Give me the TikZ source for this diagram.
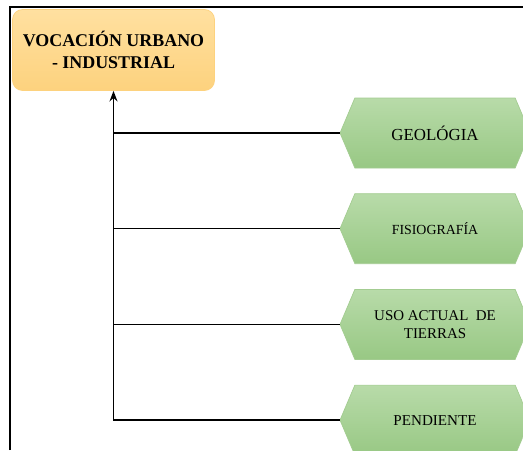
\documentclass[tikz,border=0pt]{standalone}
\usepackage{fontspec}
\setmainfont{Liberation Serif}
\usetikzlibrary{positioning,arrows.meta,shapes.symbols}
\definecolor{naranjaSup}{HTML}{FFE0A0}
\definecolor{naranjaInf}{HTML}{FDD27E}
\definecolor{verdeSup}{HTML}{B8DBA9}
\definecolor{verdeInf}{HTML}{98C884}
\definecolor{verdeBorde}{HTML}{A3CC91}

\tikzset{
  cajaTitulo/.style={rectangle, rounded corners=0.2cm, draw=naranjaInf,
    top color=naranjaSup, bottom color=naranjaInf, minimum width=4.04cm,
    minimum height=1.62cm, align=center,
    font=\fontsize{10.2}{12.5}\selectfont\bfseries},
  hexFactor/.style={signal, signal to=east and west, signal from=nowhere,
    signal pointer angle=134, draw=verdeBorde, top color=verdeSup,
    bottom color=verdeInf, minimum width=3.8cm, minimum height=1.4cm,
    inner sep=0pt, align=center},
  rama/.style={line width=0.9pt},
}

\begin{document}
\begin{tikzpicture}[>=Stealth]
  \useasboundingbox (0,0) rectangle (10.46,9);

  % Marco
  \draw[line width=1.1pt] (0.2,0) -- (0.2,8.86) -- (10.46,8.86);

  % Caja principal
  \node[cajaTitulo] (vocacion) at (2.27,8.0) {VOCACIÓN URBANO\\- INDUSTRIAL};

  % Factores
  \node[hexFactor, font=\fontsize{9.6}{11}\selectfont] (geologia) at (8.7,6.34) {GEOLÓGIA};
  \node[hexFactor, font=\fontsize{7.9}{9}\selectfont, below=0.5cm of geologia] (fisiografia) {FISIOGRAFÍA};
  \node[hexFactor, font=\fontsize{8.5}{10.3}\selectfont, below=0.5cm of fisiografia] (usoTierras) {USO ACTUAL\ \ DE\\TIERRAS};
  \node[hexFactor, font=\fontsize{8.6}{10}\selectfont, below=0.5cm of usoTierras] (pendiente) {PENDIENTE};

  % Tronco y ramas
  \draw[rama, -{Stealth[length=6pt, width=4.5pt]}] (pendiente.west) -| (vocacion.south);
  \draw[rama] (geologia.west) -- (geologia.west -| vocacion.south);
  \draw[rama] (fisiografia.west) -- (fisiografia.west -| vocacion.south);
  \draw[rama] (usoTierras.west) -- (usoTierras.west -| vocacion.south);
\end{tikzpicture}
\end{document}
